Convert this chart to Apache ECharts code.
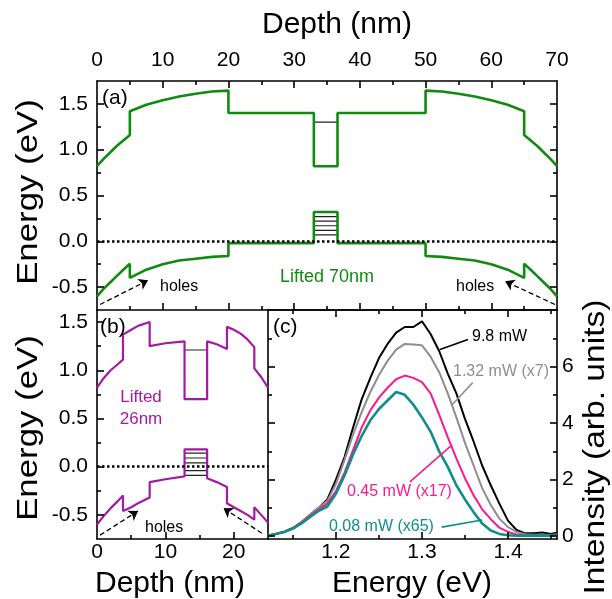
<!DOCTYPE html>
<html>
<head>
<meta charset="utf-8">
<script src="https://cdn.jsdelivr.net/npm/echarts@6.0.0/dist/echarts.min.js"></script>
<style>
html, body { margin: 0; padding: 0; background: #fff; }
#chart { width: 612px; height: 599px; }
</style>
</head>
<body>
<div id="chart"></div>
<script>
// (a) band profile, lifted 70nm
var aDepth = [0, 1, 2, 3, 4, 5, 5, 7.5, 10, 12.5, 15, 17.5, 20, 20, 33, 33, 36.6, 36.6, 50, 50, 52.5, 55, 57.5, 60, 62.5, 65, 65, 66, 67, 68, 69, 70];
var aCB = [0.82, 0.9, 0.97, 1.04, 1.1, 1.16, 1.42, 1.49, 1.54, 1.58, 1.61, 1.635, 1.645, 1.4, 1.4, 0.82, 0.82, 1.4, 1.4, 1.645, 1.635, 1.61, 1.58, 1.54, 1.49, 1.42, 1.16, 1.1, 1.04, 0.97, 0.9, 0.82];
var aVB = [-0.6, -0.52, -0.45, -0.38, -0.31, -0.245, -0.4, -0.31, -0.25, -0.21, -0.19, -0.17, -0.16, -0.02, -0.02, 0.32, 0.32, -0.02, -0.02, -0.16, -0.17, -0.19, -0.21, -0.25, -0.31, -0.4, -0.245, -0.31, -0.38, -0.45, -0.52, -0.6];
var aWell = [33, 36.6];
var aElecLevels = [1.30];
var aHoleLevels = [0.27, 0.22, 0.17, 0.12, 0.07];

// (b) band profile, lifted 26nm
var bDepth = [0, 1, 2, 3, 3.8, 3.8, 5, 6, 7.7, 7.7, 10, 12.8, 12.8, 16.1, 16.1, 17.5, 19, 19, 20, 21, 22, 23, 23, 24, 25];
var bCB = [0.82, 0.92, 1.0, 1.06, 1.11, 1.37, 1.42, 1.46, 1.5, 1.25, 1.28, 1.3, 0.7, 0.7, 1.3, 1.27, 1.22, 1.45, 1.42, 1.38, 1.32, 1.24, 1.02, 0.93, 0.82];
var bVB = [-0.6, -0.51, -0.43, -0.36, -0.3, -0.46, -0.42, -0.38, -0.32, -0.16, -0.13, -0.1, 0.18, 0.18, -0.12, -0.16, -0.21, -0.38, -0.42, -0.46, -0.5, -0.55, -0.42, -0.5, -0.58];
var bWell = [12.8, 16.1];
var bElecLevels = [1.21];
var bHoleLevels = [0.14, 0.09, 0.04, -0.04, -0.09];

// (c) PL spectra
var cEnergy = [1.121, 1.13, 1.14, 1.15, 1.16, 1.17, 1.18, 1.19, 1.20, 1.21, 1.22, 1.23, 1.24, 1.25, 1.26, 1.27, 1.28, 1.29, 1.30, 1.31, 1.32, 1.33, 1.34, 1.35, 1.36, 1.37, 1.38, 1.39, 1.40, 1.41, 1.42, 1.43, 1.44, 1.45, 1.457];
var pl98 = [0.02, 0.08, 0.16, 0.29, 0.5, 0.76, 1.0, 1.3, 2.0, 2.8, 3.85, 4.85, 5.6, 6.3, 6.8, 7.2, 7.4, 7.4, 7.6, 7.15, 6.55, 5.75, 5.05, 4.15, 3.35, 2.5, 1.8, 1.15, 0.55, 0.22, 0.1, 0.1, 0.13, 0.08, 0.12];
var pl132 = [0.02, 0.08, 0.16, 0.29, 0.5, 0.76, 1.0, 1.25, 1.85, 2.7, 3.6, 4.4, 5.1, 5.7, 6.2, 6.6, 6.8, 6.78, 6.75, 6.35, 5.8, 5.05, 4.2, 3.3, 2.5, 1.7, 1.1, 0.62, 0.32, 0.15, 0.07, 0.05, 0.05, 0.04, 0.06];
var pl045 = [0.02, 0.08, 0.15, 0.28, 0.48, 0.72, 0.95, 1.15, 1.6, 2.25, 3.05, 3.85, 4.45, 4.9, 5.25, 5.55, 5.68, 5.6, 5.45, 5.05, 4.3, 3.5, 2.75, 2.05, 1.45, 0.95, 0.6, 0.3, 0.15, 0.06, 0.02, 0.02, 0.02, 0.02, 0.05];
var pl008 = [0.02, 0.08, 0.15, 0.27, 0.45, 0.68, 0.9, 1.05, 1.5, 2.15, 2.9, 3.55, 4.1, 4.5, 4.8, 5.1, 5.0, 4.65, 4.2, 3.7, 3.0, 2.45, 1.8, 1.3, 0.85, 0.45, 0.2, 0.08, 0.03, 0.02, 0.02, 0.02, 0.02, 0.02, 0.05];

// tick values (major / minor)
var aXMajor = [10, 20, 30, 40, 50, 60], aXMinor = [5, 15, 25, 35, 45, 55, 65];
var aYMajor = [-0.5, 0, 0.5, 1, 1.5], aYMinor = [-0.25, 0.25, 0.75, 1.25];
var bXMajor = [10, 20], bXMinor = [5, 15];
var bYMajor = [-0.5, 0, 0.5, 1, 1.5], bYMinor = [-0.25, 0.25, 0.75, 1.25];
var cXMajor = [1.2, 1.3, 1.4], cXMinor = [1.15, 1.25, 1.35, 1.45];
var cYMajor = [0, 2, 4, 6], cYMinor = [1, 3, 5, 7];

var FONT = 'Liberation Sans';
var GREEN = '#128a12', PURPLE = '#a31aa3';
var BLACK = '#000', GRAY = '#8e8e8e', PINK = '#fa1a8a', TEAL = '#0e8f8c';

function pairs(xs, ys) { return xs.map(function (x, i) { return [x, ys[i]]; }); }
function one(v) { return v.toFixed(1); }

var boxA = { left: 97, top: 81, width: 460, height: 229 };
var boxB = { left: 97, top: 310, width: 171, height: 229 };
var boxC = { left: 268, top: 310, width: 289, height: 229 };
var rA = [-0.75, 1.75], rB = [-0.75, 1.625], rCx = [1.121, 1.457], rCy = [-0.1, 8];

function axis(grid, pos, range, sc, label) {
  var a = {
    type: 'value', gridIndex: grid, position: pos, min: range[0], max: range[1],
    splitLine: { show: false },
    axisLine: { show: true, onZero: false, lineStyle: { color: '#000', width: 1.6 } },
    axisTick: { show: false },
    axisLabel: { show: false }
  };
  if (sc.interval) a.interval = sc.interval;
  else a.splitNumber = sc.split;
  if (label) {
    a.axisLabel = { show: true, color: '#000', fontSize: 21, fontFamily: FONT, margin: label.margin,
      formatter: label.fmt, showMinLabel: label.minLabel, showMaxLabel: label.maxLabel };
  }
  return a;
}

// inward tick marks, drawn as short marker segments on the axis scales
function ticks(xi, yi, xr, yr, box, specs) {
  var kx = (xr[1] - xr[0]) / box.width, ky = (yr[1] - yr[0]) / box.height;
  var segs = [];
  specs.forEach(function (s) {
    s.vals.forEach(function (v) {
      if (s.side === 'bottom') segs.push([{ coord: [v, yr[0]] }, { coord: [v, yr[0] + s.len * ky] }]);
      if (s.side === 'top') segs.push([{ coord: [v, yr[1]] }, { coord: [v, yr[1] - s.len * ky] }]);
      if (s.side === 'left') segs.push([{ coord: [xr[0], v] }, { coord: [xr[0] + s.len * kx, v] }]);
      if (s.side === 'right') segs.push([{ coord: [xr[1], v] }, { coord: [xr[1] - s.len * kx, v] }]);
    });
  });
  return { type: 'line', xAxisIndex: xi, yAxisIndex: yi, data: [], symbol: 'none',
    markLine: { silent: true, symbol: 'none', label: { show: false }, animation: false,
      lineStyle: { color: '#000', width: 1.6, type: 'solid' }, data: segs } };
}

// level lines inside a quantum well
function levels(xi, yi, well, vals) {
  return vals.map(function (v) {
    return { type: 'line', xAxisIndex: xi, yAxisIndex: yi, data: [[well[0], v], [well[1], v]],
      symbol: 'none', silent: true, z: 2, lineStyle: { color: '#222', width: 1.2 } };
  });
}

function dotted(xi, yi) {
  return { type: 'line', xAxisIndex: xi, yAxisIndex: yi, data: [], symbol: 'none',
    markLine: { silent: true, symbol: 'none', label: { show: false }, animation: false,
      lineStyle: { color: '#000', type: [2.5, 2.5], width: 2.6 }, data: [{ yAxis: 0 }] } };
}

function arrows(xi, yi, list) {
  return { type: 'line', xAxisIndex: xi, yAxisIndex: yi, data: [], symbol: 'none',
    markLine: { silent: true, symbol: ['none', 'arrow'], symbolSize: 9, label: { show: false }, animation: false,
      lineStyle: { color: '#000', type: [5, 3], width: 1.3 },
      data: list.map(function (p) { return [{ coord: p[0] }, { coord: p[1] }]; }) } };
}

var series = [
  { type: 'line', xAxisIndex: 0, yAxisIndex: 0, data: pairs(aDepth, aCB), symbol: 'none', z: 3, lineStyle: { color: GREEN, width: 2.6 } },
  { type: 'line', xAxisIndex: 0, yAxisIndex: 0, data: pairs(aDepth, aVB), symbol: 'none', z: 3, lineStyle: { color: GREEN, width: 2.6 } }
]
.concat(levels(0, 0, aWell, aElecLevels))
.concat(levels(0, 0, aWell, aHoleLevels))
.concat([
  dotted(0, 0),
  arrows(0, 0, [[[0.46, -0.69], [7.76, -0.426]], [[69.7, -0.69], [62.1, -0.437]]]),
  ticks(0, 0, [0, 70], rA, boxA, [
    { side: 'bottom', vals: aXMajor, len: 7 }, { side: 'bottom', vals: aXMinor, len: 4 },
    { side: 'top', vals: aXMajor, len: 7 }, { side: 'top', vals: aXMinor, len: 4 },
    { side: 'left', vals: aYMajor, len: 7 }, { side: 'left', vals: aYMinor, len: 4 },
    { side: 'right', vals: aYMajor, len: 7 }, { side: 'right', vals: aYMinor, len: 4 }
  ]),
  { type: 'line', xAxisIndex: 2, yAxisIndex: 2, data: pairs(bDepth, bCB), symbol: 'none', z: 3, lineStyle: { color: PURPLE, width: 2.2 } },
  { type: 'line', xAxisIndex: 2, yAxisIndex: 2, data: pairs(bDepth, bVB), symbol: 'none', z: 3, lineStyle: { color: PURPLE, width: 2.2 } }
])
.concat(levels(2, 2, bWell, bElecLevels))
.concat(levels(2, 2, bWell, bHoleLevels))
.concat([
  dotted(2, 2),
  arrows(2, 2, [[[0.44, -0.71], [6.0, -0.46]], [[24.1, -0.69], [18.5, -0.43]]]),
  ticks(2, 2, [0, 25], rB, boxB, [
    { side: 'bottom', vals: bXMajor, len: 7 }, { side: 'bottom', vals: bXMinor, len: 4 },
    { side: 'left', vals: bYMajor, len: 7 }, { side: 'left', vals: bYMinor, len: 4 }
  ]),
  { type: 'line', xAxisIndex: 3, yAxisIndex: 4, data: pairs(cEnergy, pl98), symbol: 'none', lineStyle: { color: BLACK, width: 2 } },
  { type: 'line', xAxisIndex: 3, yAxisIndex: 4, data: pairs(cEnergy, pl132), symbol: 'none', lineStyle: { color: GRAY, width: 2 } },
  { type: 'line', xAxisIndex: 3, yAxisIndex: 4, data: pairs(cEnergy, pl045), symbol: 'none', lineStyle: { color: PINK, width: 2 } },
  { type: 'line', xAxisIndex: 3, yAxisIndex: 4, data: pairs(cEnergy, pl008), symbol: 'none', lineStyle: { color: TEAL, width: 2.6 } },
  // leader lines to the power labels
  { type: 'line', xAxisIndex: 3, yAxisIndex: 4, data: [], symbol: 'none',
    markLine: { silent: true, symbol: 'none', label: { show: false }, animation: false, lineStyle: { width: 1.6, type: 'solid' },
      data: [
        [{ coord: [1.321, 6.6], lineStyle: { color: BLACK } }, { coord: [1.3535, 6.96] }],
        [{ coord: [1.335, 4.65], lineStyle: { color: GRAY } }, { coord: [1.359, 5.43] }],
        [{ coord: [1.286, 1.92], lineStyle: { color: PINK } }, { coord: [1.335, 3.23] }],
        [{ coord: [1.323, 0.32], lineStyle: { color: TEAL } }, { coord: [1.37, 0.57] }]
      ] } },
  ticks(3, 4, rCx, rCy, boxC, [
    { side: 'bottom', vals: cXMajor, len: 7 }, { side: 'bottom', vals: cXMinor, len: 4 },
    { side: 'top', vals: cXMajor, len: 7 }, { side: 'top', vals: cXMinor, len: 4 },
    { side: 'left', vals: cYMajor, len: 7 }, { side: 'left', vals: cYMinor, len: 4 },
    { side: 'right', vals: cYMajor, len: 7 }, { side: 'right', vals: cYMinor, len: 4 }
  ])
]);

function txt(x, y, s, size, color, opt) {
  var o = { type: 'text', x: x, y: y, silent: true, z: 10,
    style: { text: s, fontSize: size, fontFamily: FONT, fill: color, align: 'left', verticalAlign: 'middle' } };
  if (opt) {
    if (opt.align) o.style.align = opt.align;
    if (opt.rot) o.rotation = opt.rot;
    if (opt.sx) o.scaleX = opt.sx;
  }
  return o;
}

var chart = echarts.init(document.getElementById('chart'));
chart.setOption({
  animation: false,
  textStyle: { fontFamily: FONT },
  grid: [boxA, boxB, boxC],
  xAxis: [
    axis(0, 'bottom', [0, 70], { interval: 10 }),
    axis(0, 'top', [0, 70], { interval: 10 }, { margin: 10 }),
    axis(1, 'bottom', [0, 25], { interval: 10 }, { margin: 3, maxLabel: false }),
    axis(2, 'bottom', rCx, { split: 3 }, { margin: 3, fmt: one, minLabel: false, maxLabel: false }),
    axis(2, 'top', rCx, { split: 3 })
  ],
  yAxis: [
    axis(0, 'left', rA, { split: 5 }, { margin: 9, fmt: one, minLabel: false, maxLabel: false }),
    axis(0, 'right', rA, { split: 5 }),
    axis(1, 'left', rB, { split: 5 }, { margin: 9, fmt: one, minLabel: false, maxLabel: false }),
    axis(2, 'left', rCy, { split: 4 }),
    axis(2, 'right', rCy, { split: 4 }, { margin: 5, minLabel: false, maxLabel: false })
  ],
  series: series,
  graphic: [
    txt(337, 25, 'Depth (nm)', 30, '#000', { align: 'center' }),
    txt(29, 192, 'Energy (eV)', 30, '#000', { align: 'center', rot: Math.PI / 2, sx: 1.16 }),
    txt(29, 428, 'Energy (eV)', 30, '#000', { align: 'center', rot: Math.PI / 2, sx: 1.16 }),
    txt(170, 584, 'Depth (nm)', 30, '#000', { align: 'center' }),
    txt(412, 584, 'Energy (eV)', 30, '#000', { align: 'center' }),
    txt(596, 447, 'Intensity (arb. units)', 30, '#000', { align: 'center', rot: Math.PI / 2, sx: 1.12 }),
    txt(102, 98, '(a)', 21, '#000'),
    txt(100, 327, '(b)', 21, '#000'),
    txt(273, 327, '(c)', 21, '#000'),
    txt(327, 277, 'Lifted 70nm', 18, GREEN, { align: 'center' }),
    txt(160, 287, 'holes', 16, '#000'),
    txt(456, 287, 'holes', 16, '#000'),
    txt(141, 397, 'Lifted', 17, PURPLE, { align: 'center' }),
    txt(141, 419, '26nm', 17, PURPLE, { align: 'center' }),
    txt(145, 528, 'holes', 16, '#000'),
    txt(472, 337, '9.8 mW', 16, BLACK),
    txt(453, 372, '1.32 mW (x7)', 16, GRAY),
    txt(347, 492, '0.45 mW (x17)', 16, PINK),
    txt(329, 527, '0.08 mW (x65)', 16, TEAL)
  ]
});
</script>
</body>
</html>
